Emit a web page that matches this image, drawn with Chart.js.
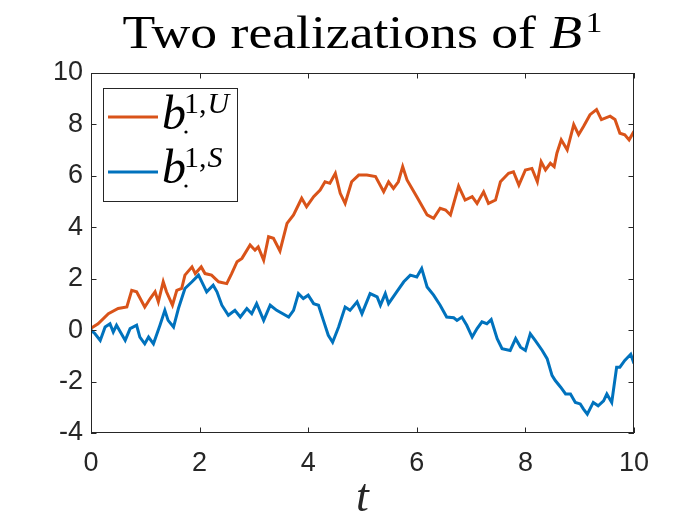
<!DOCTYPE html>
<html>
<head>
<meta charset="utf-8">
<script src="https://cdn.jsdelivr.net/npm/chart.js@4.4.1/dist/chart.umd.min.js"></script>
<style>
  html, body { margin: 0; padding: 0; background: #fff; }
  #wrap { width: 700px; height: 525px; }
</style>
</head>
<body>
<div id="wrap"><canvas id="bmChart" width="700" height="525"></canvas></div>
<script>
// realization U (orange)
const tU = [0.00, 0.13, 0.32, 0.50, 0.66, 0.75, 0.84, 0.99, 1.09, 1.18, 1.24, 1.33, 1.39, 1.50, 1.58, 1.67,
    1.73, 1.86, 1.92, 2.03, 2.10, 2.22, 2.35, 2.50, 2.59, 2.69, 2.78, 2.93, 3.02, 3.08, 3.18, 3.27, 3.36,
    3.48, 3.61, 3.73, 3.88, 3.97, 4.10, 4.22, 4.31, 4.40, 4.50, 4.59, 4.68, 4.80, 4.93, 5.08, 5.24, 5.39,
    5.48, 5.57, 5.66, 5.74, 5.82, 6.00, 6.19, 6.31, 6.43, 6.53, 6.62, 6.77, 6.89, 7.02, 7.11, 7.23, 7.32,
    7.45, 7.54, 7.69, 7.78, 7.88, 8.00, 8.12, 8.22, 8.29, 8.37, 8.46, 8.53, 8.58, 8.66, 8.77, 8.89, 8.98,
    9.07, 9.19, 9.31, 9.40, 9.56, 9.65, 9.74, 9.83, 9.91, 10.00];
const bU = [0.07, 0.25, 0.64, 0.84, 0.90, 1.55, 1.49, 0.90, 1.23, 1.49, 1.10, 1.88, 1.49, 0.97, 1.55, 1.62,
    2.14, 2.46, 2.20, 2.46, 2.20, 2.14, 1.88, 1.81, 2.20, 2.66, 2.79, 3.31, 3.11, 3.24, 2.72, 3.63, 3.57,
    3.08, 4.15, 4.48, 5.13, 4.80, 5.19, 5.45, 5.77, 5.71, 6.10, 5.32, 4.93, 5.77, 6.03, 6.03, 5.97, 5.38,
    5.77, 5.51, 5.77, 6.36, 5.84, 5.19, 4.48, 4.35, 4.74, 4.67, 4.48, 5.60, 5.06, 5.19, 4.93, 5.38, 4.93,
    5.06, 5.77, 6.10, 6.16, 5.64, 6.23, 6.29, 5.77, 6.55, 6.23, 6.49, 6.36, 6.88, 7.40, 7.01, 7.99, 7.60,
    7.92, 8.38, 8.58, 8.19, 8.32, 8.19, 7.66, 7.60, 7.40, 7.73];

// realization S (blue)
const tS = [0.00, 0.07, 0.17, 0.26, 0.35, 0.41, 0.47, 0.63, 0.72, 0.84, 0.90, 0.99, 1.06, 1.15, 1.27, 1.36,
    1.42, 1.52, 1.61, 1.73, 1.86, 1.98, 2.07, 2.13, 2.25, 2.32, 2.41, 2.53, 2.65, 2.75, 2.87, 2.96, 3.05,
    3.18, 3.30, 3.42, 3.64, 3.73, 3.82, 3.91, 4.00, 4.10, 4.19, 4.28, 4.37, 4.45, 4.56, 4.68, 4.77, 4.90,
    4.99, 5.14, 5.27, 5.33, 5.42, 5.48, 5.63, 5.76, 5.88, 6.00, 6.09, 6.19, 6.31, 6.43, 6.55, 6.68, 6.74,
    6.83, 6.92, 7.02, 7.11, 7.20, 7.29, 7.37, 7.48, 7.57, 7.72, 7.82, 7.91, 8.00, 8.09, 8.18, 8.31, 8.40,
    8.49, 8.55, 8.65, 8.74, 8.83, 8.92, 9.01, 9.07, 9.14, 9.25, 9.34, 9.44, 9.50, 9.59, 9.68, 9.74, 9.83,
    9.94, 10.00];
const bS = [0.00, -0.13, -0.40, 0.12, 0.25, -0.07, 0.19, -0.40, 0.06, 0.19, -0.27, -0.53, -0.27, -0.53, 0.19, 0.77,
    0.38, 0.12, 0.84, 1.62, 1.88, 2.14, 1.75, 1.49, 1.75, 1.49, 0.97, 0.58, 0.77, 0.51, 0.84, 0.64, 1.03,
    0.38, 0.97, 0.77, 0.51, 0.77, 1.42, 1.23, 1.36, 1.03, 0.97, 0.38, -0.20, -0.47, 0.12, 0.90, 0.77, 1.10,
    0.64, 1.42, 1.29, 0.97, 1.42, 1.03, 1.49, 1.88, 2.14, 2.07, 2.40, 1.68, 1.36, 0.97, 0.51, 0.48, 0.38,
    0.51, 0.19, -0.27, 0.06, 0.32, 0.25, 0.41, -0.33, -0.72, -0.79, -0.33, -0.66, -0.79, -0.14, -0.40, -0.79, -1.11,
    -1.76, -1.96, -2.22, -2.48, -2.48, -2.81, -2.87, -3.07, -3.27, -2.81, -2.94, -2.75, -2.48, -2.81, -1.44, -1.44, -1.18,
    -0.94, -1.30];

const xTicks = [0, 2, 4, 6, 8, 10];
const yTicks = [-4, -2, 0, 2, 4, 6, 8, 10];

const ORANGE = '#D95319';
const BLUE = '#0072BD';
const AXIS = '#262626';
const SERIF = '"Liberation Serif", "DejaVu Serif", serif';

function pairs(ts, vs) {
    return ts.map((t, i) => ({ x: t, y: vs[i] }));
}

// box, inward ticks, title, xlabel and legend in the matlab look
const matlabDecor = {
    id: 'matlabDecor',
    afterDraw(chart) {
        const ctx = chart.ctx;
        const a = chart.chartArea;
        const xs = chart.scales.x;
        const ys = chart.scales.y;
        ctx.save();

        ctx.strokeStyle = AXIS;
        ctx.lineWidth = 1;
        ctx.strokeRect(Math.round(a.left) + 0.5, Math.round(a.top) + 0.5,
            Math.round(a.right - a.left) - 1, Math.round(a.bottom - a.top) - 1);

        const tl = 5.5;
        ctx.beginPath();
        xTicks.forEach(v => {
            const px = Math.round(xs.getPixelForValue(v)) + 0.5;
            ctx.moveTo(px, a.bottom); ctx.lineTo(px, a.bottom - tl);
            ctx.moveTo(px, a.top); ctx.lineTo(px, a.top + tl);
        });
        yTicks.forEach(v => {
            const py = Math.round(ys.getPixelForValue(v)) + 0.5;
            ctx.moveTo(a.left, py); ctx.lineTo(a.left + tl, py);
            ctx.moveTo(a.right, py); ctx.lineTo(a.right - tl, py);
        });
        ctx.stroke();

        // title, stretched a little to the width of the latex original
        const cx = (a.left + a.right) / 2;
        ctx.fillStyle = '#000';
        ctx.textBaseline = 'alphabetic';
        ctx.textAlign = 'left';
        const fMain = '46px ' + SERIF;
        const fIt = 'italic 46px ' + SERIF;
        const fSup = '29px ' + SERIF;
        ctx.font = fMain;
        const w1 = ctx.measureText('Two realizations of ').width;
        ctx.font = fIt;
        const w2 = ctx.measureText('B').width;
        ctx.font = fSup;
        const w3 = ctx.measureText('1').width;
        const total = w1 + w2 + 3 + w3;
        const sx = 480 / total;
        ctx.save();
        ctx.translate(cx - 480 / 2, 0);
        ctx.scale(sx, 1);
        ctx.font = fMain;
        ctx.fillText('Two realizations of ', 0, 48);
        ctx.font = fIt;
        ctx.fillText('B', w1, 48);
        ctx.font = fSup;
        ctx.fillText('1', w1 + w2 + 3, 31.5);
        ctx.restore();

        // x label
        ctx.font = 'italic 46px ' + SERIF;
        ctx.textAlign = 'center';
        ctx.fillStyle = AXIS;
        ctx.fillText('t', cx, 511);

        // legend
        ctx.textAlign = 'left';
        ctx.fillStyle = '#fff';
        ctx.fillRect(103.5, 88.5, 134, 113);
        ctx.strokeStyle = AXIS;
        ctx.lineWidth = 1;
        ctx.strokeRect(103.5, 88.5, 134, 113);
        const entries = [
            { color: ORANGE, sup: 'U', ly: 117, base: 129 },
            { color: BLUE, sup: 'S', ly: 172, base: 183 }
        ];
        entries.forEach(e => {
            ctx.strokeStyle = e.color;
            ctx.lineWidth = 3;
            ctx.beginPath();
            ctx.moveTo(108, e.ly); ctx.lineTo(158, e.ly);
            ctx.stroke();
            ctx.fillStyle = '#000';
            ctx.font = 'italic 48px ' + SERIF;
            ctx.fillText('b', 162, e.base);
            ctx.beginPath();
            ctx.arc(186, e.base + 3, 1.6, 0, Math.PI * 2);
            ctx.fill();
            ctx.font = '30px ' + SERIF;
            ctx.fillText('1,', 184, e.base - 16);
            const w = ctx.measureText('1,').width;
            ctx.font = 'italic 30px ' + SERIF;
            ctx.fillText(e.sup, 184 + w + 1, e.base - 16);
        });
        ctx.restore();
    }
};

const ctx = document.getElementById('bmChart').getContext('2d');
new Chart(ctx, {
    type: 'line',
    data: {
        datasets: [
            {
                label: 'b^{1,U}',
                data: pairs(tU, bU),
                borderColor: ORANGE,
                borderWidth: 3,
                pointRadius: 0,
                tension: 0,
                fill: false,
                order: 1
            },
            {
                label: 'b^{1,S}',
                data: pairs(tS, bS),
                borderColor: BLUE,
                borderWidth: 3,
                pointRadius: 0,
                tension: 0,
                fill: false,
                order: 0
            }
        ]
    },
    options: {
        responsive: false,
        animation: false,
        events: [],
        layout: { padding: { top: 73, right: 66, left: 0, bottom: 0 } },
        plugins: {
            legend: { display: false },
            title: { display: false },
            tooltip: { enabled: false }
        },
        scales: {
            x: {
                type: 'linear',
                min: 0,
                max: 10,
                afterFit: s => { s.height = 92; },
                afterBuildTicks: s => { s.ticks = xTicks.map(v => ({ value: v })); },
                grid: { display: false, drawTicks: false },
                border: { display: false },
                ticks: {
                    color: AXIS,
                    padding: 14,
                    maxRotation: 0,
                    font: { family: '"Liberation Sans", Arial, sans-serif', size: 27 }
                }
            },
            y: {
                type: 'linear',
                min: -4,
                max: 10,
                afterFit: s => { s.width = 91; },
                afterBuildTicks: s => { s.ticks = yTicks.map(v => ({ value: v })); },
                grid: { display: false, drawTicks: false },
                border: { display: false },
                ticks: {
                    color: AXIS,
                    padding: 8,
                    font: { family: '"Liberation Sans", Arial, sans-serif', size: 27 }
                }
            }
        }
    },
    plugins: [matlabDecor]
});
</script>
</body>
</html>
